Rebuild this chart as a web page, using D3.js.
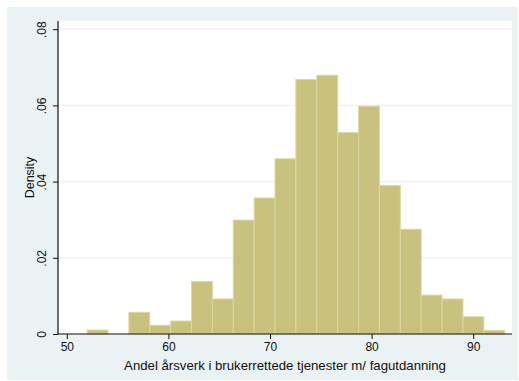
<!DOCTYPE html>
<html>
<head>
<meta charset="utf-8">
<script src="https://cdn.jsdelivr.net/npm/d3@7"></script>
<style>
  html, body { margin: 0; padding: 0; background: #ffffff; }
  svg { display: block; }
  text { font-family: "Liberation Sans", Arial, Helvetica, sans-serif; fill: #111; }
</style>
</head>
<body>
<svg id="chart" width="519" height="381"></svg>
<script>
// Histogram bins: left edges start at binStart, each binWidth wide
const binStart = 52.0;
const binWidth = 2.055;
const densities = [0.00105, 0, 0.0057, 0.0023, 0.0034, 0.0138, 0.0092, 0.0299, 0.0357, 0.0460,
                   0.0668, 0.0679, 0.0529, 0.0598, 0.0390, 0.0275, 0.0102, 0.0092, 0.00455, 0.00097];
const xTicks = [50, 60, 70, 80, 90];
const yTicks = [0, 0.02, 0.04, 0.06, 0.08];
const yTickLabels = ["0", ".02", ".04", ".06", ".08"];
const xTitle = "Andel årsverk i brukerrettede tjenester m/ fagutdanning";
const yTitle = "Density";

const bins = densities.map((d, i) => ({ x0: binStart + i * binWidth, x1: binStart + (i + 1) * binWidth, d }));

const svg = d3.select("#chart");

// outer graph region
svg.append("rect").attr("x", 7).attr("y", 7).attr("width", 511).attr("height", 373).attr("fill", "#eaf2f3");

const plot = { left: 58, right: 512, top: 21, bottom: 334 };
svg.append("rect").attr("x", plot.left).attr("y", plot.top)
  .attr("width", plot.right - plot.left).attr("height", plot.bottom - plot.top).attr("fill", "#ffffff");

const x = d3.scaleLinear().domain([50, 90]).range([66.8, 473.2]);
const y = d3.scaleLinear().domain([0, 0.08]).range([334, 29.2]);

// horizontal grid
svg.append("g").selectAll("line").data(yTicks.slice(1)).join("line")
  .attr("x1", plot.left).attr("x2", plot.right)
  .attr("y1", d => y(d)).attr("y2", d => y(d))
  .attr("stroke", "#eaf2f3").attr("stroke-width", 1.2);

// bars
svg.append("g").selectAll("rect").data(bins.filter(b => b.d > 0)).join("rect")
  .attr("x", b => x(b.x0))
  .attr("width", b => x(b.x1) - x(b.x0))
  .attr("y", b => y(b.d))
  .attr("height", b => y(0) - y(b.d))
  .attr("fill", "#c9c17e")
  .attr("stroke", "#dcd7a4")
  .attr("stroke-width", 1);

// y axis
const yAxis = d3.axisLeft(y).tickValues(yTicks).tickSize(5).tickPadding(4)
  .tickFormat((d, i) => yTickLabels[i]);
const gy = svg.append("g").attr("transform", `translate(${plot.left},0)`).call(yAxis);
gy.select(".domain").attr("d", `M0,${plot.top}V${plot.bottom}`).attr("stroke", "#111").attr("stroke-width", 1.2);
gy.selectAll(".tick line").attr("stroke", "#111");
gy.selectAll(".tick text")
  .attr("font-size", 12).attr("fill", "#111")
  .attr("transform", "rotate(-90)")
  .attr("x", 0).attr("y", -12)
  .attr("dy", "0")
  .attr("text-anchor", "middle");

// x axis
const xAxis = d3.axisBottom(x).tickValues(xTicks).tickSize(5).tickPadding(3);
const gx = svg.append("g").attr("transform", `translate(0,${plot.bottom})`).call(xAxis);
gx.select(".domain").attr("d", `M${plot.left},0H${plot.right}`).attr("stroke", "#111").attr("stroke-width", 1.2);
gx.selectAll(".tick line").attr("stroke", "#111");
gx.selectAll(".tick text").attr("font-size", 12).attr("fill", "#111");

// axis titles
svg.append("text").attr("x", (plot.left + plot.right) / 2).attr("y", 370)
  .attr("text-anchor", "middle").attr("font-size", 13.2).text(xTitle);
svg.append("text").attr("transform", `translate(34,${(plot.top + plot.bottom) / 2}) rotate(-90)`)
  .attr("text-anchor", "middle").attr("font-size", 12.5).text(yTitle);
</script>
</body>
</html>
